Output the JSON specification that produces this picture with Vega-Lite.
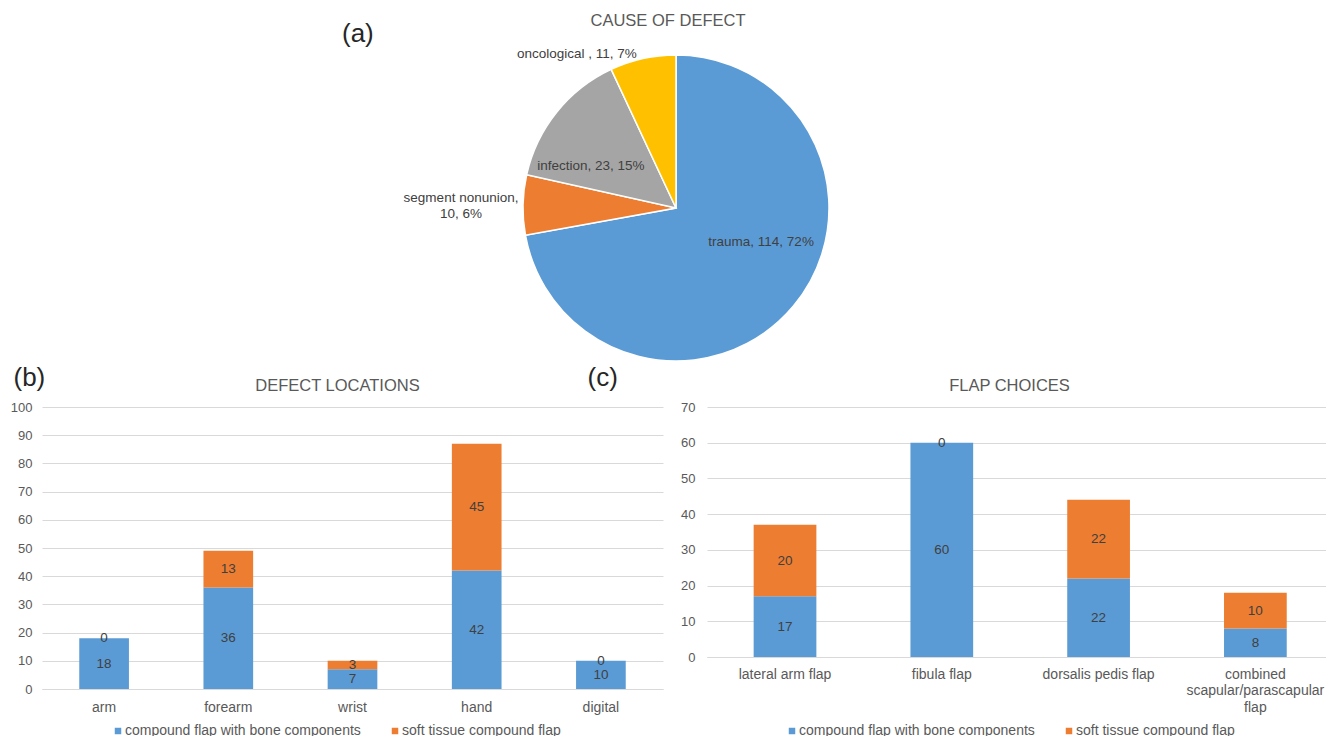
{
  "$schema": "https://vega.github.io/schema/vega-lite/v6.json",
  "background": "white",
  "padding": {"left": 10, "top": 13, "right": 0, "bottom": 0},
  "config": {
    "font": "Liberation Sans",
    "view": {"stroke": null},
    "title": {"fontWeight": "normal", "color": "#595959", "fontSize": 16.5, "font": "Liberation Sans"},
    "axis": {"labelFont": "Liberation Sans", "titleFont": "Liberation Sans"},
    "legend": {"labelFont": "Liberation Sans"}
  },
  "datasets": {
    "cause": [
      {"cause": "trauma", "count": 114, "rank": 1, "label": "trauma, 114, 72%"},
      {"cause": "segment nonunion", "count": 10, "rank": 2, "label": "segment nonunion,\n10, 6%"},
      {"cause": "infection", "count": 23, "rank": 3, "label": "infection, 23, 15%"},
      {"cause": "oncological", "count": 11, "rank": 4, "label": "oncological , 11, 7%"}
    ],
    "locations": [
      {"location": "arm", "flap": "compound flap with bone components", "n": 18},
      {"location": "arm", "flap": "soft tissue compound flap", "n": 0},
      {"location": "forearm", "flap": "compound flap with bone components", "n": 36},
      {"location": "forearm", "flap": "soft tissue compound flap", "n": 13},
      {"location": "wrist", "flap": "compound flap with bone components", "n": 7},
      {"location": "wrist", "flap": "soft tissue compound flap", "n": 3},
      {"location": "hand", "flap": "compound flap with bone components", "n": 42},
      {"location": "hand", "flap": "soft tissue compound flap", "n": 45},
      {"location": "digital", "flap": "compound flap with bone components", "n": 10},
      {"location": "digital", "flap": "soft tissue compound flap", "n": 0}
    ],
    "choices": [
      {"choice": "lateral arm flap", "type": "compound flap with bone components", "n": 17},
      {"choice": "lateral arm flap", "type": "soft tissue compound flap", "n": 20},
      {"choice": "fibula flap", "type": "compound flap with bone components", "n": 60},
      {"choice": "fibula flap", "type": "soft tissue compound flap", "n": 0},
      {"choice": "dorsalis pedis flap", "type": "compound flap with bone components", "n": 22},
      {"choice": "dorsalis pedis flap", "type": "soft tissue compound flap", "n": 22},
      {"choice": "combined scapular/parascapular flap", "type": "compound flap with bone components", "n": 8},
      {"choice": "combined scapular/parascapular flap", "type": "soft tissue compound flap", "n": 10}
    ]
  },
  "title": {"text": "(a)", "anchor": "start", "frame": "group", "fontSize": 26, "color": "#262626", "offset": 0, "dx": 300, "dy": 34},
  "bounds": "flush",
  "spacing": 39,
  "resolve": {"scale": {"color": "independent"}, "legend": {"color": "independent"}},
  "vconcat": [
    {
      "width": 1268,
      "height": 320,
      "title": {"text": "CAUSE OF DEFECT", "anchor": "middle", "frame": "group", "offset": 13, "dx": -8},
      "data": {"name": "cause"},
      "encoding": {
        "theta": {"field": "count", "type": "quantitative", "stack": true},
        "order": {"field": "rank", "type": "quantitative"}
      },
      "layer": [
        {
          "mark": {"type": "arc", "outerRadius": 153, "stroke": "white", "strokeWidth": 1.5},
          "encoding": {
            "color": {"field": "cause", "type": "nominal",
              "scale": {"domain": ["trauma", "segment nonunion", "infection", "oncological"], "range": ["#5B9BD5", "#ED7D31", "#A5A5A5", "#FFC000"]},
              "legend": null}
          }
        },
        {
          "mark": {"type": "text", "radius": 92, "dx": 14.5, "dy": -25, "fontSize": 13.5, "color": "#404040"},
          "encoding": {"text": {"condition": {"test": "datum.cause === 'trauma'", "field": "label", "type": "nominal"}, "value": ""}}
        },
        {
          "mark": {"type": "text", "radius": 95, "dx": -11, "dy": 17, "fontSize": 13.5, "color": "#404040"},
          "encoding": {"text": {"condition": {"test": "datum.cause === 'infection'", "field": "label", "type": "nominal"}, "value": ""}}
        },
        {
          "mark": {"type": "text", "radius": 155, "dx": -60, "dy": -7, "fontSize": 13.5, "color": "#404040", "lineBreak": "\n", "lineHeight": 16},
          "encoding": {"text": {"condition": {"test": "datum.cause === 'segment nonunion'", "field": "label", "type": "nominal"}, "value": ""}}
        },
        {
          "mark": {"type": "text", "radius": 155, "dx": -65.5, "dy": -3, "fontSize": 13.5, "color": "#404040"},
          "encoding": {"text": {"condition": {"test": "datum.cause === 'oncological'", "field": "label", "type": "nominal"}, "value": ""}}
        }
      ]
    },
    {
      "bounds": "flush",
      "spacing": 44,
      "resolve": {"scale": {"color": "independent"}, "legend": {"color": "independent"}},
      "hconcat": [
        {
          "width": 621,
          "height": 282,
          "title": {"text": "DEFECT LOCATIONS", "anchor": "middle", "frame": "group", "offset": -30, "dx": -15},
          "data": {"name": "locations"},
          "encoding": {
            "x": {"field": "location", "type": "nominal", "sort": null,
              "scale": {"paddingInner": 0.6, "paddingOuter": 0.3},
              "axis": {"title": "(b)", "titleX": -29, "titleY": -312, "titleAngle": 0, "titleAlign": "left", "titleBaseline": "middle",
                "titleFontSize": 26, "titleColor": "#262626", "titleFontWeight": "normal",
                "labelAngle": 0, "labelFontSize": 14, "labelColor": "#595959", "labelPadding": 11, "ticks": false,
                "domainColor": "#D9D9D9", "domainWidth": 1}},
            "y": {"field": "n", "type": "quantitative", "stack": "zero", "scale": {"domain": [0, 100]},
              "axis": {"title": null, "values": [0, 10, 20, 30, 40, 50, 60, 70, 80, 90, 100], "domain": false, "ticks": false,
                "labelPadding": 10, "labelFontSize": 13, "labelColor": "#595959", "gridColor": "#D9D9D9"}},
            "order": {"field": "flap", "type": "ordinal", "sort": "ascending"},
            "color": {"field": "flap", "type": "nominal",
              "scale": {"domain": ["compound flap with bone components", "soft tissue compound flap"], "range": ["#5B9BD5", "#ED7D31"]},
              "legend": {"orient": "none", "legendX": 69, "legendY": 317, "direction": "horizontal", "title": null,
                "symbolType": "square", "symbolSize": 42, "symbolStrokeWidth": 0, "labelFontSize": 14, "labelColor": "#595959",
                "labelOffset": 0, "labelLimit": 400, "columnPadding": 27, "padding": 0}}
          },
          "layer": [
            {"mark": {"type": "bar"}},
            {
              "mark": {"type": "text", "fontSize": 13.5, "baseline": "middle"},
              "encoding": {
                "y": {"field": "n", "type": "quantitative", "stack": "zero", "bandPosition": 0.5},
                "text": {"field": "n", "type": "quantitative"},
                "color": {"value": "#404040"}
              }
            }
          ]
        },
        {
          "width": 619,
          "height": 250,
          "title": {"text": "FLAP CHOICES", "anchor": "middle", "frame": "group", "offset": -30, "dx": -7},
          "data": {"name": "choices"},
          "encoding": {
            "x": {"field": "choice", "type": "nominal", "sort": null,
              "scale": {"paddingInner": 0.6, "paddingOuter": 0.274, "align": 0.543},
              "axis": {"title": "(c)", "titleX": -120, "titleY": -280, "titleAngle": 0, "titleAlign": "left", "titleBaseline": "middle",
                "titleFontSize": 26, "titleColor": "#262626", "titleFontWeight": "normal",
                "labelAngle": 0, "labelFontSize": 14, "labelColor": "#595959", "labelPadding": 10, "ticks": false, "labelLineHeight": 16.5,
                "labelExpr": "datum.label == 'combined scapular/parascapular flap' ? ['combined', 'scapular/parascapular', 'flap'] : datum.label",
                "domainColor": "#D9D9D9", "domainWidth": 1}},
            "y": {"field": "n", "type": "quantitative", "stack": "zero", "scale": {"domain": [0, 70]},
              "axis": {"title": null, "values": [0, 10, 20, 30, 40, 50, 60, 70], "domain": false, "ticks": false,
                "labelPadding": 12, "labelFontSize": 13, "labelColor": "#595959", "gridColor": "#D9D9D9"}},
            "order": {"field": "type", "type": "ordinal", "sort": "ascending"},
            "color": {"field": "type", "type": "nominal",
              "scale": {"domain": ["compound flap with bone components", "soft tissue compound flap"], "range": ["#5B9BD5", "#ED7D31"]},
              "legend": {"orient": "none", "legendX": 78, "legendY": 317, "direction": "horizontal", "title": null,
                "symbolType": "square", "symbolSize": 42, "symbolStrokeWidth": 0, "labelFontSize": 14, "labelColor": "#595959",
                "labelOffset": 0, "labelLimit": 400, "columnPadding": 27, "padding": 0}}
          },
          "layer": [
            {"mark": {"type": "bar"}},
            {
              "mark": {"type": "text", "fontSize": 13.5, "baseline": "middle"},
              "encoding": {
                "y": {"field": "n", "type": "quantitative", "stack": "zero", "bandPosition": 0.5},
                "text": {"field": "n", "type": "quantitative"},
                "color": {"value": "#404040"}
              }
            }
          ]
        }
      ]
    }
  ]
}
